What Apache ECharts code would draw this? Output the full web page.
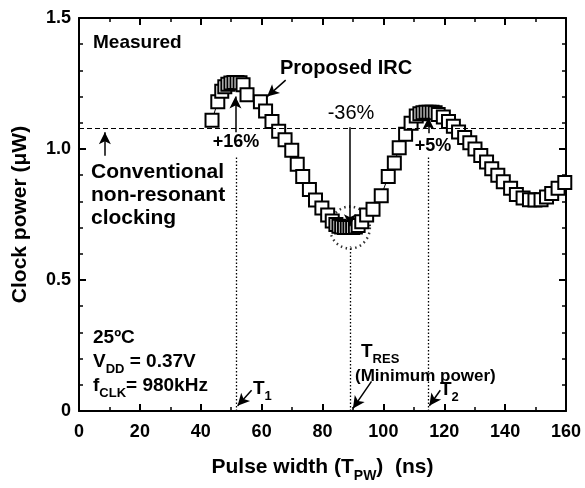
<!DOCTYPE html>
<html><head><meta charset="utf-8">
<script src="https://cdn.jsdelivr.net/npm/echarts@6/dist/echarts.min.js"></script>
<style>html,body{margin:0;padding:0;background:#fff}#c{width:585px;height:488px}</style>
</head><body><div id="c"></div>
<script>
const pulseWidth = [43.7,45.6,46.9,47.9,48.9,49.9,50.9,51.9,52.9,53.9,55.2,59.6,61.3,63.4,65.6,67.7,69.9,71.7,73.5,75.7,77.7,79.8,81.7,83.2,84.4,85.4,86.3,87.2,88.1,89.0,89.9,90.8,91.7,92.9,94.5,96.6,99.3,101.6,103.6,105.2,107.3,109.1,110.8,112.0,113.0,114.0,115.0,116.0,117.0,118.0,119.7,121.4,123.0,124.7,126.7,128.4,130.1,132.0,133.9,135.6,137.6,139.4,141.8,143.7,145.9,148.0,149.8,151.8,153.6,155.3,157.4,159.6];
const clockPower = [1.11,1.18,1.22,1.238,1.247,1.252,1.254,1.254,1.253,1.245,1.207,1.18,1.145,1.105,1.068,1.035,0.995,0.942,0.895,0.845,0.805,0.775,0.748,0.725,0.712,0.705,0.702,0.70,0.70,0.70,0.70,0.702,0.708,0.722,0.748,0.77,0.822,0.895,0.947,1.005,1.056,1.098,1.126,1.135,1.138,1.14,1.14,1.14,1.138,1.132,1.122,1.105,1.087,1.065,1.044,1.024,1.0,0.975,0.95,0.925,0.9,0.875,0.85,0.826,0.813,0.806,0.805,0.806,0.817,0.83,0.85,0.872];
const xTicks = [0,20,40,60,80,100,120,140,160];
const yTicks = [0,0.5,1.0,1.5];
const conventionalPower = 1.08;
const tMarks = {T1: 51.8, TRES: 89.0, T2: 114.8};
const minPoint = [89.0, 0.70];

const FF = '"Liberation Sans", Arial, sans-serif';
const chart = echarts.init(document.getElementById('c'), null, {renderer:'canvas'});
const pts = pulseWidth.map((x,i)=>[x, clockPower[i]]);

function seg(a,b,style,arrow){
  return [{coord:a, symbol:'none', lineStyle:style}, {coord:b, symbol: arrow?'arrow':'none', symbolSize: arrow?[9,12]:0, lineStyle:style}];
}
const solid = {type:'solid', width:1.5, color:'#000'};
const dotted = {type:[1.5,2], width:1.3, color:'#000'};
const dashed = {type:[5,3], width:1.2, color:'#000'};

const aLine = {show:true, onZero:false, lineStyle:{color:'#000', width:2}};
const aTick = {show:true, inside:true, length:7, lineStyle:{color:'#000', width:2}};
const lbl = {fontFamily:FF, fontWeight:'bold', fontSize:18, color:'#000'};

function txt(x,y,text,size,opts){
  opts = opts||{};
  return {type:'text', x:x, y:y, z:100, style:{text:text, font:(opts.weight||'bold')+' '+size+'px '+FF, fill:'#000', align:opts.align||'left', verticalAlign:'middle'}};
}
function subTxt(x,y,text,sz){
  return {type:'text', x:x, y:y, z:100, style:{text:text, fill:'#000', align:'left', verticalAlign:'middle',
    rich:{a:{fontFamily:FF, fontWeight:'bold', fontSize:sz, lineHeight:28, verticalAlign:'middle'},
          s:{fontFamily:FF, fontWeight:'bold', fontSize:Math.round(sz*0.68), verticalAlign:'bottom', lineHeight:28}}}};
}

chart.setOption({
  animation:false,
  backgroundColor:'#fff',
  grid:{left:79, right:19, top:18, bottom:72, containLabel:false},
  xAxis:[
    {type:'value', min:0, max:160, interval:20, position:'bottom',
      axisLine:aLine, axisTick:aTick, splitLine:{show:false},
      minorTick:{show:true, splitNumber:2, length:4, lineStyle:{color:'#000', width:1.5}},
      axisLabel:Object.assign({margin:12, formatter:v=>xTicks.includes(v)?String(v):''}, lbl),
      name:'{a|Pulse width (T}{s|PW}{a|)  (ns)}', nameLocation:'middle', nameGap:40,
      nameTextStyle:{rich:{a:{fontFamily:FF, fontWeight:'bold', fontSize:21, color:'#000', lineHeight:32, verticalAlign:'middle'}, s:{fontFamily:FF, fontWeight:'bold', fontSize:14, color:'#000', lineHeight:32, verticalAlign:'bottom'}}}},
    {type:'value', min:0, max:160, interval:20, position:'top', axisLabel:{show:false},
      axisLine:aLine, axisTick:aTick, splitLine:{show:false},
      minorTick:{show:true, splitNumber:2, length:4, lineStyle:{color:'#000', width:1.5}}}
  ],
  yAxis:[
    {type:'value', min:0, max:1.5, interval:0.5, position:'left',
      axisLine:aLine, axisTick:aTick, splitLine:{show:false},
      minorTick:{show:true, splitNumber:5, length:4, lineStyle:{color:'#000', width:1.5}},
      axisLabel:Object.assign({margin:8, formatter:v=>{const t=yTicks.find(k=>Math.abs(k-v)<1e-6); return t===undefined?'':(t===0?'0':t.toFixed(1));}}, lbl),
      name:'Clock power (μW)', nameLocation:'middle', nameGap:48,
      nameTextStyle:{fontFamily:FF, fontWeight:'bold', fontSize:21, color:'#000'}},
    {type:'value', min:0, max:1.5, interval:0.5, position:'right', axisLabel:{show:false},
      axisLine:aLine, axisTick:aTick, splitLine:{show:false},
      minorTick:{show:true, splitNumber:5, length:4, lineStyle:{color:'#000', width:1.5}}}
  ],
  series:[
    {type:'line', xAxisIndex:1, yAxisIndex:1, data:[[0,0],[160,1.5]], showSymbol:false, silent:true, lineStyle:{opacity:0}, z:0},
    {type:'scatter', data:[minPoint], symbol:'circle', symbolSize:[40,42], silent:true,
      itemStyle:{color:'rgba(0,0,0,0)', borderColor:'#000', borderWidth:2.5, borderType:[1.5,3.5]}, z:1},
    {type:'line', data:pts, symbol:'rect', symbolSize:13, showAllSymbol:true,
      lineStyle:{color:'#000', width:1}, itemStyle:{color:'#fff', borderColor:'#000', borderWidth:2}, z:3,
      markLine:{silent:true, symbol:'none', label:{show:false}, animation:false,
        data:[
          seg([0,conventionalPower],[160,conventionalPower],dashed,false),
          seg([tMarks.T1,0],[tMarks.T1,0.97],dotted,false),
          seg([tMarks.TRES,0],[tMarks.TRES,0.63],dotted,false),
          seg([tMarks.T2,0],[tMarks.T2,0.97],dotted,false),
          seg([51.4,1.064],[51.4,1.2],solid,true),
          seg([89.0,1.083],[89.0,0.705],solid,true),
          seg([114.8,1.06],[114.8,1.12],solid,true),
          seg([8.5,0.974],[8.5,1.064],solid,true),
          seg([67.9,1.263],[61.8,1.2],solid,true),
          seg([56.7,0.079],[52.1,0.02],solid,true),
          seg([96.1,0.113],[90.0,0.01],solid,true),
          seg([118.7,0.079],[115.1,0.02],solid,true)
        ]}}
  ],
  graphic:[
    txt(93,43,'Measured',19),
    txt(280,68,'Proposed IRC',20),
    txt(351,113,'-36%',20,{align:'center', weight:'normal'}),
    txt(236,142,'+16%',18,{align:'center'}),
    txt(433,146,'+5%',18,{align:'center'}),
    txt(91,172,'Conventional',21),
    txt(91,195,'non-resonant',21),
    txt(91,218,'clocking',21),
    txt(93,338,'25ºC',19),
    subTxt(93,362,'{a|V}{s|DD}{a| = 0.37V}',19),
    subTxt(93,386,'{a|f}{s|CLK}{a|= 980kHz}',19),
    subTxt(361,352,'{a|T}{s|RES}',19),
    txt(355,376,'(Minimum power)',17),
    subTxt(253,389,'{a|T}{s|1}',19),
    subTxt(440,390,'{a|T}{s|2}',19)
  ]
});
</script></body></html>
